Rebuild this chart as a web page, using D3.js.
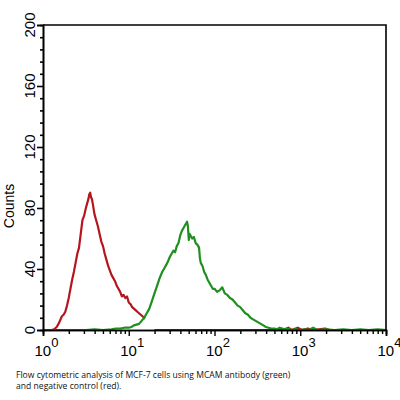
<!DOCTYPE html>
<html><head><meta charset="utf-8">
<script src="https://cdn.jsdelivr.net/npm/d3@7"></script>
<style>body{margin:0;background:#fff}svg{display:block}</style>
</head><body>
<svg id="c" width="400" height="400"></svg>
<script>
// Data: x in log10 units of fluorescence, y = counts (null = gap in the trace)
const redLogX = [0,0.05,0.1,0.13,0.16,0.19,0.22,0.24,0.26,0.28,0.30,0.32,0.34,0.36,0.38,0.40,0.42,0.44,0.46,0.48,0.50,0.52,0.53,0.54,0.55,0.56,0.57,0.58,0.60,0.62,0.64,0.66,0.68,0.70,0.72,0.74,0.76,0.78,0.80,0.82,0.84,0.86,0.88,0.90,0.92,0.94,0.96,0.98,1.00,1.02,1.04,1.06,1.08,1.10,1.12,1.14,1.16,1.18,1.19,1.20,1.3,1.5,2.0,2.5,2.8,2.86,2.9,2.97,3.02,3.09,3.14,3.29,3.34,4.0];
const redCounts = [0,0,0,0.5,2,5,9,10,12,16,21,27,33,38,44,50,54,63,72,75,80,84,86,89,90,87,86,83,76,72,68,63,58,55,50,46,42,39,36,34,32,29,27,25,22,23,21,22,18,17,15,14,13,12,11,10,9,8,7.5,null,0,0,0,0,0,1.5,0,1.5,0,1,0,1,0,0];
const greenLogX = [0,0.1,0.2,0.3,0.4,0.5,0.6,0.7,0.8,0.85,0.9,0.95,1.0,1.03,1.06,1.09,1.12,1.15,1.18,1.21,1.24,1.27,1.30,1.33,1.36,1.39,1.42,1.45,1.48,1.50,1.52,1.54,1.56,1.58,1.60,1.62,1.64,1.66,1.68,1.69,1.70,1.71,1.72,1.74,1.76,1.78,1.80,1.82,1.83,1.84,1.86,1.88,1.90,1.92,1.94,1.96,1.98,2.00,2.03,2.06,2.09,2.12,2.15,2.18,2.21,2.24,2.27,2.30,2.33,2.36,2.39,2.42,2.45,2.48,2.51,2.54,2.57,2.60,2.63,2.66,2.70,2.73,2.76,2.79,2.82,2.85,2.9,2.95,3.0,3.05,3.1,3.15,3.2,3.3,3.4,3.5,3.6,3.7,3.8,3.9,4.0];
const greenCounts = [0,0,0,0,0,0,0.5,0,0.5,1,1,1.5,1.5,2,3,3.5,4,6,8,11,14,19,24,29,34,38,41,44,48,50,52,51,55,57,62,65,67,69,71,68,59,63,62,60,61,57,56,54,47,44,42,38,36,33,31,29,27,27,25,26,28,24,23,21,20,18,16,15,13,11,10,8,7,6,5,4,3,2,1.5,1,1,0.5,1.5,1,0.5,1,0,0.5,0,0.5,0,1.5,0,0.5,0,0.5,0,0.5,0,0.5,0];
const yTicks = [0,40,80,120,160,200];
const xDecades = [0,1,2,3,4];
const captionLines = ["Flow cytometric analysis of MCF-7 cells using MCAM antibody (green)","and negative control (red)."];

const svg = d3.select("#c");
const x = d3.scaleLog().domain([1,1e4]).range([43,386]);
const y = d3.scaleLinear().domain([0,200]).range([330,25]);

const line = d3.line().defined(d=>d[1]!==null).x(d=>x(Math.pow(10,d[0]))).y(d=>y(d[1]));
const redData = redLogX.map((v,i)=>[v,redCounts[i]]);
const greenData = greenLogX.map((v,i)=>[v,greenCounts[i]]);

svg.append("path").datum(redData).attr("d",line).attr("fill","none")
  .attr("stroke","#b5161e").attr("stroke-width",2.2).attr("stroke-linejoin","round");
svg.append("path").datum(greenData).attr("d",line).attr("fill","none")
  .attr("stroke","#1f8f1f").attr("stroke-width",2.2).attr("stroke-linejoin","round");

// frame
svg.append("path")
  .attr("d",`M${x(1)},${y(200)}H${x(1e4)}V${y(0)}`)
  .attr("fill","none").attr("stroke","#000").attr("stroke-width",1.6);

// x axis
const minorX = [];
for (let d=0; d<4; d++) for (let k=2;k<=9;k++) minorX.push(k*Math.pow(10,d));
const gx = svg.append("g").attr("transform",`translate(0,${y(0)})`);
gx.call(d3.axisBottom(x).tickValues(xDecades.map(d=>Math.pow(10,d))).tickSize(6).tickFormat(""));
gx.append("g").call(d3.axisBottom(x).tickValues(minorX).tickSize(4).tickFormat(""));
gx.selectAll(".domain").attr("stroke","#000").attr("stroke-width",1.6);
gx.selectAll(".tick line").attr("stroke","#000").attr("stroke-width",1.4);

const lbl = svg.append("g").attr("font-family","Liberation Sans, Arial, sans-serif").attr("fill","#000");
xDecades.forEach(d=>{
  const t = lbl.append("text").attr("x",x(Math.pow(10,d))-8.5).attr("y",356).attr("font-size",15);
  t.append("tspan").text("10");
  t.append("tspan").attr("font-size",13).attr("dy",-9).text(String(d));
});

// y axis
const minorY = d3.range(0,201,8).filter(v=>v%40!==0);
const gy = svg.append("g").attr("transform",`translate(${x(1)},0)`);
gy.call(d3.axisLeft(y).tickValues(yTicks).tickSize(6).tickFormat(""));
gy.append("g").call(d3.axisLeft(y).tickValues(minorY).tickSize(3).tickFormat(""));
gy.selectAll(".domain").attr("stroke","#000").attr("stroke-width",1.6);
gy.selectAll(".tick line").attr("stroke","#000").attr("stroke-width",1.6);

yTicks.forEach(v=>{
  lbl.append("text").attr("transform",`translate(35,${y(v)}) rotate(-90)`)
    .attr("text-anchor","middle").attr("font-size",15).text(String(v));
});
lbl.append("text").attr("transform",`translate(14,206) rotate(-90)`)
  .attr("text-anchor","middle").attr("font-size",14).text("Counts");

// caption
const cap = svg.append("g").attr("font-family","Open Sans, sans-serif").attr("font-size",8.6).attr("fill","#111");
captionLines.forEach((s,i)=>{
  cap.append("text").attr("x",16).attr("y",378+i*11).text(s);
});
</script>
</body></html>
